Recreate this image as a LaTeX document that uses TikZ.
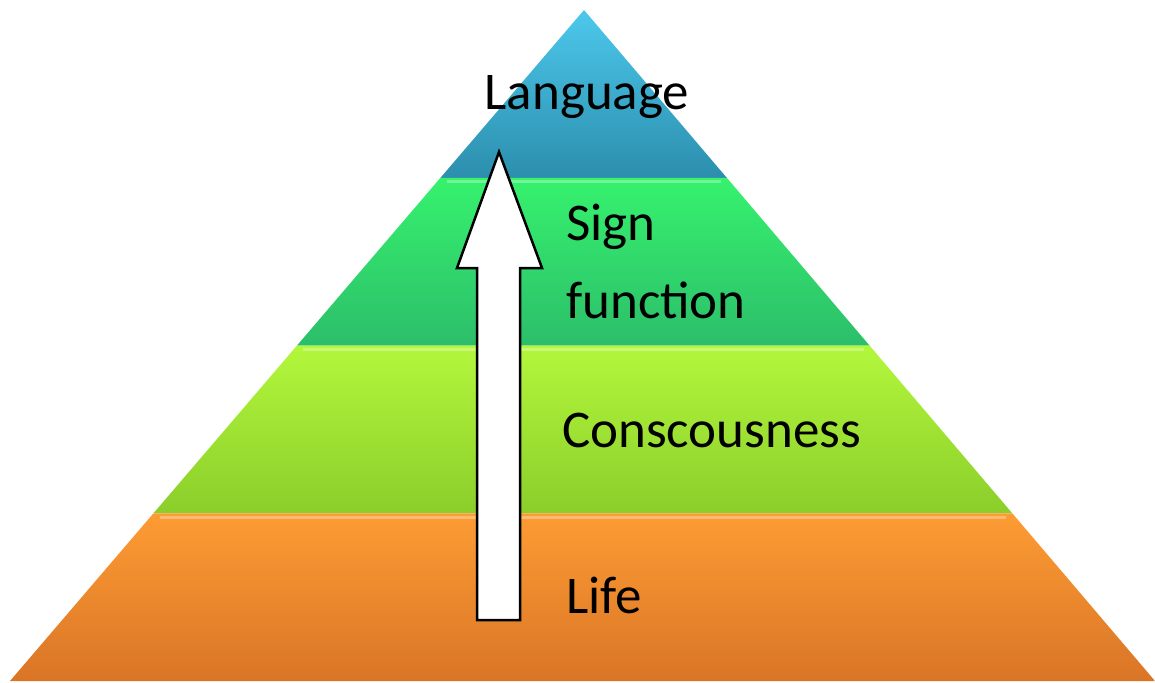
\documentclass[tikz,border=0pt]{standalone}
\usepackage{fontspec}
\setmainfont{Carlito}
\usetikzlibrary{calc}
\definecolor{blueA}{HTML}{4CC8EC}
\definecolor{blueB}{HTML}{2C8EAD}
\definecolor{greenA}{HTML}{36F26D}
\definecolor{greenB}{HTML}{2CBE6B}
\definecolor{limeA}{HTML}{B3F73C}
\definecolor{limeB}{HTML}{8BCE2B}
\definecolor{orangeA}{HTML}{FD9C34}
\definecolor{orangeB}{HTML}{D97526}
\begin{document}
\begin{tikzpicture}
[x=1pt,y=-1pt,%
  tiertext/.style={inner sep=0pt,font=\fontsize{53}{62}\selectfont},%
  glint/.style={white,opacity=0.3,line width=3pt},%
  upward/.style={draw=black,line width=2.5pt,fill=white,line join=miter}]
\useasboundingbox (0,0) rectangle (1155,682);
\coordinate (apex) at (584,10);
\coordinate (bl) at (10,681);
\coordinate (br) at (1155,681);
\foreach \n/\t in {a/0.25,b/0.5,c/0.75}{
  \coordinate (l\n) at ($(apex)!\t!(bl)$);
  \coordinate (r\n) at ($(apex)!\t!(br)$);
}
% tiers
\shade[top color=blueA,bottom color=blueB] (apex) -- (la) -- (ra) -- cycle;
\shade[top color=greenA,bottom color=greenB] (la) -- (lb) -- (rb) -- (ra) -- cycle;
\shade[top color=limeA,bottom color=limeB] (lb) -- (lc) -- (rc) -- (rb) -- cycle;
\shade[top color=orangeA,bottom color=orangeB] (lc) -- (bl) -- (br) -- (rc) -- cycle;
\draw[glint] ($(la)+(6,4)$) -- ($(ra)+(-6,4)$);
\draw[glint] ($(lb)+(6,4)$) -- ($(rb)+(-6,4)$);
\draw[glint] ($(lc)+(6,4)$) -- ($(rc)+(-6,4)$);
% arrow
\draw[upward] (477,620) -- (477,268) -- (457,268) -- (499,152)
  -- (542,268) -- (520,268) -- (520,620) -- cycle;
% labels
\node[tiertext,anchor=base] (language) at (587,110) {Language};
\node[tiertext,anchor=base west] (sign) at (566,240) {Sign};
\node[tiertext,anchor=base west] (function) at (566,318) {function};
\node[tiertext,anchor=base west] (conscousness) at (562,447) {Conscousness};
\node[tiertext,anchor=base west] (life) at (566,613) {Life};
\end{tikzpicture}
\end{document}
